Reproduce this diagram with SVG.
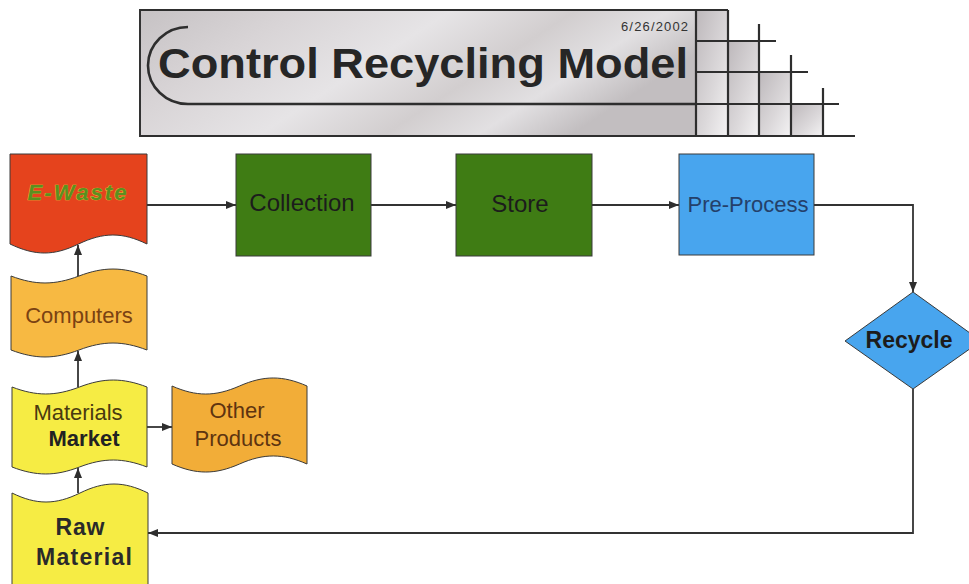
<svg xmlns="http://www.w3.org/2000/svg" width="969" height="584" viewBox="0 0 969 584">
  <style>
    .lbl { font-family: "Liberation Sans", Arial, sans-serif; text-anchor: middle; }
    .shape { stroke: #3a3a3a; stroke-width: 1; }
    .conn { fill: none; stroke: #333; stroke-width: 1.8; }
    .grid { stroke: #2e2e2e; stroke-width: 2.2; fill: none; }
  </style>
  <defs>
    <linearGradient id="metal" x1="0" y1="0" x2="1" y2="0.35">
      <stop offset="0" stop-color="#c6c2c4"/>
      <stop offset="0.25" stop-color="#d8d4d6"/>
      <stop offset="0.5" stop-color="#e6e4e6"/>
      <stop offset="0.7" stop-color="#d2cecf"/>
      <stop offset="0.85" stop-color="#e2e0e2"/>
      <stop offset="1" stop-color="#c2bec0"/>
    </linearGradient>
    <linearGradient id="cell" x1="0" y1="0" x2="1" y2="1">
      <stop offset="0" stop-color="#bdb8bb"/>
      <stop offset="0.6" stop-color="#dcd9db"/>
      <stop offset="1" stop-color="#f4f3f4"/>
    </linearGradient>
    <marker id="arrow" markerUnits="userSpaceOnUse" markerWidth="11" markerHeight="9" refX="10" refY="4.5" orient="auto">
      <path d="M0,0.5 L10,4.5 L0,8.5 z" fill="#2e2e2e"/>
    </marker>
  </defs>

  <rect width="969" height="584" fill="#ffffff"/>

  <!-- title banner -->
  <g id="title">
    <rect x="140" y="10" width="556" height="126" fill="url(#metal)" stroke="#333" stroke-width="2"/>
    <!-- staircase of tiles at the right end -->
    <rect x="696" y="10" width="32" height="126" fill="url(#cell)"/>
    <rect x="728" y="41" width="31" height="95" fill="url(#cell)"/>
    <rect x="759" y="72" width="32" height="64" fill="url(#cell)"/>
    <rect x="791" y="104" width="32" height="32" fill="url(#cell)"/>
    <path class="grid" d="M140,10 H728 M696,10 V136 M728,10 V136 M759,24 V136 M791,55 V136 M823,88 V136
                          M696,41 H776 M696,72 H808 M680,104 H839 M140,136 H855"/>
    <path d="M188,27 A40 38.5 0 0 0 188,104 H696" fill="none" stroke="#2e2e2e" stroke-width="2.6"/>
    <text x="688" y="31" class="lbl" style="text-anchor:end" font-size="13" fill="#333" textLength="67">6/26/2002</text>
    <text x="158" y="78" font-family="'Liberation Sans', Arial, sans-serif" font-weight="bold" font-size="42" fill="#262626" textLength="530" lengthAdjust="spacingAndGlyphs">Control Recycling Model</text>
  </g>

  <!-- connectors -->
  <g id="connectors">
    <path class="conn" d="M147,205 H236" marker-end="url(#arrow)"/>
    <path class="conn" d="M371,205 H456" marker-end="url(#arrow)"/>
    <path class="conn" d="M592,205 H679" marker-end="url(#arrow)"/>
    <path class="conn" d="M814,205 H913 V292" marker-end="url(#arrow)"/>
    <path class="conn" d="M913,389 V533 H148" marker-end="url(#arrow)"/>
    <path class="conn" d="M78,276 V245" marker-end="url(#arrow)"/>
    <path class="conn" d="M78,387 V351" marker-end="url(#arrow)"/>
    <path class="conn" d="M78,493 V468" marker-end="url(#arrow)"/>
    <path class="conn" d="M147,427 H172" marker-end="url(#arrow)"/>
  </g>

  <!-- E-Waste (document shape) -->
  <g id="e-waste">
    <path class="shape" fill="#e5431d" d="M10,154 H147 V244 C122.3,232 103.7,232 78.5,244 C53.8,256 35.2,256 10,244 Z"/>
    <text x="77" y="200" class="lbl" font-size="22" font-weight="bold" font-style="italic" fill="#5a9020" stroke="#d8cc3c" stroke-width="0.7" paint-order="stroke" textLength="99">E-Waste</text>
  </g>

  <g id="collection">
    <rect class="shape" x="236" y="154" width="135" height="102" fill="#3f7c14"/>
    <text x="302" y="211" class="lbl" font-size="24" fill="#1c1c1c">Collection</text>
  </g>

  <g id="store">
    <rect class="shape" x="456" y="154" width="136" height="102" fill="#3f7c14"/>
    <text x="520" y="212" class="lbl" font-size="24" fill="#1c1c1c">Store</text>
  </g>

  <g id="pre-process">
    <rect class="shape" x="679" y="154" width="135" height="101" fill="#48a5ee"/>
    <text x="748" y="212" class="lbl" font-size="22" fill="#24406a">Pre-Process</text>
  </g>

  <g id="recycle">
    <path class="shape" fill="#48a5ee" d="M913,292 L981,341 L913,389 L845,341 Z"/>
    <text x="909" y="348" class="lbl" font-size="23" font-weight="bold" fill="#1c1c1c">Recycle</text>
  </g>

  <!-- punched-tape shapes -->
  <g id="computers">
    <path class="shape" fill="#f7b942" d="M11,276 C35.5,285.3 54.5,285.3 79,276 C103.5,266.7 122.5,266.7 147,276 V350 C122.5,340.7 103.5,340.7 79,350 C54.5,359.3 35.5,359.3 11,350 Z"/>
    <text x="79" y="323" class="lbl" font-size="22" fill="#7a4212">Computers</text>
  </g>

  <g id="materials-market">
    <path class="shape" fill="#f6ec44" d="M12,387 C36.3,396.3 55.2,396.3 79.5,387 C103.8,377.7 122.7,377.7 147,387 V467 C122.7,457.7 103.8,457.7 79.5,467 C55.2,476.3 36.3,476.3 12,467 Z"/>
    <text x="78" y="420" class="lbl" font-size="22" fill="#4a3a10">Materials</text>
    <text x="84" y="446" class="lbl" font-size="22" font-weight="bold" fill="#222">Market</text>
  </g>

  <g id="other-products">
    <path class="shape" fill="#f2ad38" d="M172,386 C196.3,396.7 215.2,396.7 239.5,386 C263.8,375.3 282.7,375.3 307,386 V464 C282.7,453.3 263.8,453.3 239.5,464 C215.2,474.7 196.3,474.7 172,464 Z"/>
    <text x="237" y="418" class="lbl" font-size="22" fill="#5e3410">Other</text>
    <text x="238" y="446" class="lbl" font-size="22" fill="#5e3410">Products</text>
  </g>

  <g id="raw-material">
    <path class="shape" fill="#f6ec44" d="M12,493 C36.5,505 55.5,505 80,493 C104.5,481 123.5,481 148,493 V592 H12 Z"/>
    <text x="80" y="535" class="lbl" font-size="23" font-weight="bold" fill="#2a2a2a" textLength="49">Raw</text>
    <text x="84" y="565" class="lbl" font-size="23" font-weight="bold" fill="#2a2a2a" textLength="96">Material</text>
  </g>
</svg>
